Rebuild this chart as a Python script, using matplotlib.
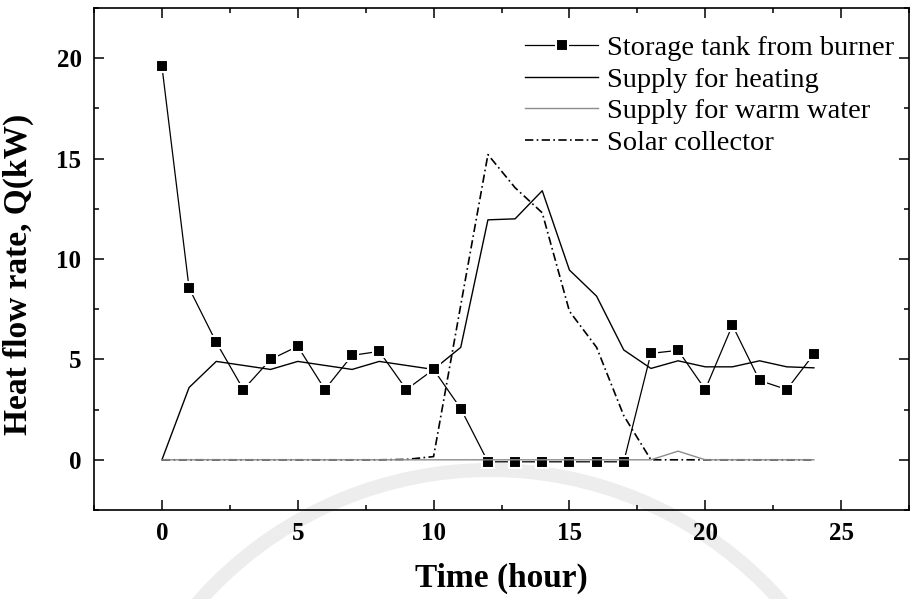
import matplotlib
matplotlib.use('Agg')
import matplotlib.pyplot as plt
from matplotlib.ticker import MultipleLocator
from matplotlib.patches import Wedge

# Hourly heat flow rates (kW)
hours = list(range(25))
storage_tank = [19.6, 8.55, 5.85, 3.5, 5.0, 5.65, 3.5, 5.2, 5.4, 3.5, 4.5, 2.55,
                -0.1, -0.1, -0.1, -0.1, -0.1, -0.1, 5.3, 5.45, 3.5, 6.7, 3.95, 3.5, 5.27]
supply_heating = [0.0, 3.6, 4.9, 4.7, 4.5, 4.9, 4.7, 4.5, 4.9, 4.7, 4.5, 5.6,
                  11.95, 12.0, 13.4, 9.45, 8.15, 5.47, 4.55, 4.93, 4.63, 4.63, 4.93, 4.63, 4.58]
supply_warm_water = [0.0] * 19 + [0.43] + [0.0] * 5
solar_collector = [0.0] * 9 + [0.02, 0.16, 7.7, 15.2, 13.55, 12.3, 7.4, 5.6, 2.2,
                               0.0, 0.0, 0.0, 0.0, 0.0, 0.0, 0.0]

plt.rcParams['font.family'] = 'Liberation Serif'

fig = plt.figure(figsize=(9.1, 5.99), dpi=100)

# faint seal ring in the background (pixel coordinates)
bg = fig.add_axes([0, 0, 1, 1], zorder=-1)
bg.set_xlim(0, 910)
bg.set_ylim(599, 0)
bg.axis('off')
bg.add_patch(Wedge((490, 858), 395, 0, 360, width=14, color='#ededed', lw=0))
bg.add_patch(Wedge((490, 858), 250, 0, 360, width=10, color='#f0f0f0', lw=0))

ax = fig.add_axes([94 / 910, 1 - 510 / 599, 815 / 910, 502 / 599])
ax.patch.set_alpha(0)

ax.plot(hours, storage_tank, color='black', lw=0.9, marker='s', ms=8.7,
        mfc='black', mec='white', mew=1.5, label='Storage tank from burner', zorder=3)
ax.plot(hours, supply_heating, color='black', lw=1.0, label='Supply for heating', zorder=2)
ax.plot(hours, supply_warm_water, color='#8c8c8c', lw=1.0, label='Supply for warm water', zorder=4)
ax.plot(hours, solar_collector, color='black', lw=1.2, dashes=(5, 2, 1, 2),
        label='Solar collector', zorder=2)

ax.set_xlim(-2.5, 27.5)
ax.set_ylim(-2.5, 22.5)
ax.xaxis.set_major_locator(MultipleLocator(5))
ax.xaxis.set_minor_locator(MultipleLocator(2.5))
ax.yaxis.set_major_locator(MultipleLocator(5))
ax.yaxis.set_minor_locator(MultipleLocator(2.5))
ax.tick_params(which='both', direction='in', top=True, right=True, width=1.1)
ax.tick_params(which='major', length=7, pad=9, labelsize=18)
ax.tick_params(which='minor', length=3.5)
for lab in ax.get_xticklabels() + ax.get_yticklabels():
    lab.set_fontweight('bold')
for sp in ax.spines.values():
    sp.set_linewidth(1.2)

ax.set_xlabel('Time (hour)', fontsize=24, fontweight='bold')
ax.set_ylabel('Heat flow rate, Q(kW)', fontsize=24, fontweight='bold')
ax.xaxis.set_label_coords(0.5, -0.105)
ax.yaxis.set_label_coords(-0.074, 0.47)

ax.legend(loc='upper left', bbox_to_anchor=(0.529, 0.946), frameon=False,
          fontsize=20.5, handlelength=2.56, handletextpad=0.32, labelspacing=0.2,
          borderpad=0, borderaxespad=0)

fig.savefig('out.png', dpi=100)
